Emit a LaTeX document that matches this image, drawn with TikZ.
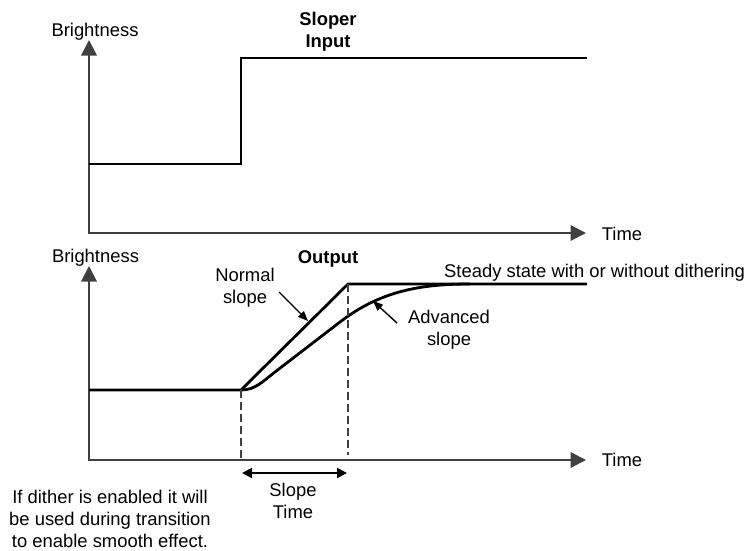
\documentclass[tikz,border=0pt]{standalone}
\usepackage{fontspec}
\setmainfont{Liberation Sans}
\usetikzlibrary{arrows.meta}
\definecolor{axisgray}{HTML}{404040}
\begin{document}
\begin{tikzpicture}[x=1pt,y=-1pt,
  font=\fontsize{18.4}{22}\selectfont,
  lbl/.style={inner sep=0pt, align=center},
  boldlbl/.style={inner sep=0pt, align=center, font=\fontsize{18.4}{22}\selectfont\bfseries},
  axis/.style={draw=axisgray, line width=2pt, line join=miter,
    {Triangle[length=15.5pt,width=15.5pt]}-{Triangle[length=15.5pt,width=15.5pt]}},
  sig/.style={draw=black, line width=2.8pt, line join=miter},
  guide/.style={draw=axisgray, line width=1.4pt, dash pattern=on 8pt off 4pt},
  pointer/.style={draw=black, line width=1.4pt, -{Triangle[length=10pt,width=8pt]}},
  span/.style={draw=black, line width=2pt,
    {Triangle[length=10pt,width=10pt]}-{Triangle[length=10pt,width=10pt]}}
]
\useasboundingbox (0,0) rectangle (753,550);

% ---------- top plot ----------
\coordinate (ytop1) at (89,40);
\coordinate (o1) at (89,233);
\coordinate (xend1) at (586,233);
\draw[axis] (ytop1) -- (o1) -- (xend1);
\node[lbl, anchor=base] (bright1) at (95,36.7) {Brightness};
\node[lbl, anchor=base west] (time1) at (601.7,240) {Time};
\node[boldlbl, anchor=base] (title1) at (328,47) {Sloper\\Input};

\coordinate (in0) at (89,164);
\coordinate (in1) at (241,164);
\coordinate (in2) at (241,58);
\coordinate (in3) at (587,58);
\draw[sig] (in0) -- (in1) -- (in2) -- (in3);

% ---------- bottom plot ----------
\coordinate (ytop2) at (89,266);
\coordinate (o2) at (89,460);
\coordinate (xend2) at (586,460);
\draw[axis] (ytop2) -- (o2) -- (xend2);
\node[lbl, anchor=base] (bright2) at (95.5,262.7) {Brightness};
\node[lbl, anchor=base west] (time2) at (601.7,466.5) {Time};
\node[boldlbl, anchor=base] (title2) at (328,263) {Output};

\coordinate (out0) at (89,390);
\coordinate (out1) at (241,390);
\coordinate (out2) at (348,284);
\coordinate (out3) at (587,284);
\coordinate (adv1) at (275,372);
\coordinate (adv2) at (340,322);
\coordinate (adv3) at (470,284);
\draw[sig] (out0) -- (out1) -- (out2) -- (out3);
\draw[sig] (out1) .. controls (255,390) and (262,382) .. (adv1) -- (adv2)
  .. controls (380,291.2) and (420,284) .. (adv3);

\coordinate (g1) at (241,460);
\coordinate (g2) at (348,455);
\draw[guide] (out1) -- (g1);
\draw[guide] (out2) -- (g2);

\coordinate (s1) at (242,473);
\coordinate (s2) at (347,473);
\draw[span] (s1) -- (s2);
\node[lbl, anchor=base] (slopetime) at (293,518) {Slope\\Time};

\node[lbl, anchor=base] (normal) at (245,303) {Normal\\slope};
\coordinate (np) at (308,321);
\coordinate (nt) at (279,292);
\draw[pointer] (nt) -- (np);

\node[lbl, anchor=base] (advanced) at (449,345) {Advanced\\slope};
\coordinate (ap) at (373,301);
\coordinate (at0) at (397,323);
\draw[pointer] (at0) -- (ap);

\node[lbl, anchor=base west] (steady) at (444,277) {Steady state with or without dithering};

\node[lbl, anchor=base] (note) at (110,547) {If dither is enabled it will\\be used during transition\\to enable smooth effect.};
\end{tikzpicture}
\end{document}
